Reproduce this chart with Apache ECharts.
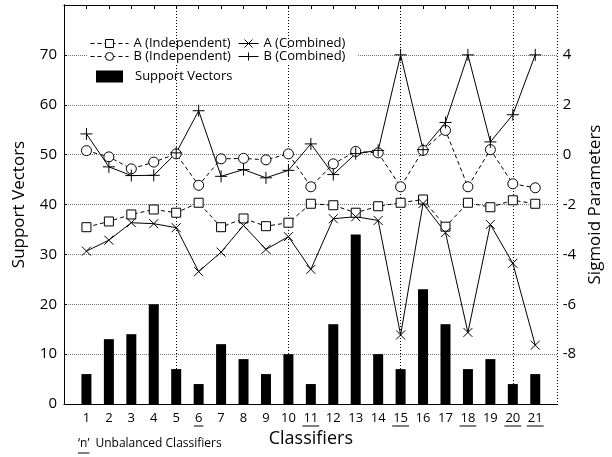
<!DOCTYPE html>
<html>
<head>
<meta charset="utf-8">
<script src="https://cdn.jsdelivr.net/npm/echarts@6/dist/echarts.min.js"></script>
<style>html,body{margin:0;padding:0;background:#fff}#c{width:612px;height:457px}</style>
</head>
<body>
<div id="c"></div>
<script>
var categories = [1,2,3,4,5,6,7,8,9,10,11,12,13,14,15,16,17,18,19,20,21];
var unbalanced = [6,11,15,18,20,21];
var supportVectors = [6,13,14,20,7,4,12,9,6,10,4,16,34,10,7,23,16,7,9,4,6];
var aIndependent = [-2.91,-2.68,-2.4,-2.2,-2.33,-1.93,-2.91,-2.56,-2.87,-2.73,-1.97,-2.03,-2.33,-2.07,-1.93,-1.8,-2.89,-1.93,-2.11,-1.83,-1.97];
var bIndependent = [0.16,-0.09,-0.57,-0.3,0.03,-1.23,-0.17,-0.15,-0.21,0.03,-1.29,-0.37,0.13,0.07,-1.29,0.17,0.97,-1.29,0.2,-1.17,-1.33];
var aCombined = [-3.87,-3.43,-2.73,-2.77,-2.93,-4.69,-3.91,-2.84,-3.8,-3.29,-4.6,-2.57,-2.49,-2.64,-7.23,-1.96,-3.13,-7.13,-2.8,-4.36,-7.64];
var bCombined = [0.83,-0.49,-0.84,-0.83,0.07,1.76,-0.87,-0.6,-0.93,-0.63,0.43,-0.8,0.04,0.17,4,0.2,1.29,4,0.51,1.6,4];
var leftTicks = [0,10,20,30,40,50,60,70];
var rightTicks = [-8,-6,-4,-2,0,2,4];

var FONT = 'Open Sans';
function pairs(vals){ return categories.map(function(c,i){ return [c, vals[i]]; }); }
var crossPath = 'path://M0,0L10,10M10,0L0,10';
var plusPath = 'path://M5,0L5,10M0,5L10,5';
var rectPath = 'path://M0,0L10,0L10,10L0,10Z';
var circlePath = 'path://M10,5A5,5 0 1 1 0,5A5,5 0 1 1 10,5Z';

var chart = echarts.init(document.getElementById('c'), null, {renderer:'canvas'});
var legendText = {fontFamily: FONT, fontSize: 13, color: '#000'};
var legendItem = {borderWidth:1};
var legendLine = {width:1};
var openStyle = {color:'#fff', borderColor:'#000', borderWidth:1};
var lineMarkStyle = {color:'#000', borderColor:'#000', borderWidth:1};
var option = {
  animation: false,
  textStyle: {fontFamily: FONT},
  grid: {left: 64, right: 44, top: 5, bottom: 53, containLabel: false},
  xAxis: [
    {type:'value', min:0, max:22, interval:1, position:'bottom',
     name:'Classifiers', nameLocation:'middle', nameGap:24,
     nameTextStyle:{fontFamily:FONT, fontSize:18, color:'#000'},
     axisLine:{show:true, onZero:false, lineStyle:{color:'#000', width:1}},
     axisTick:{show:false}, splitLine:{show:false},
     axisLabel:{show:true, margin:8, color:'#000', fontFamily:FONT, fontSize:13,
       formatter:function(v){ return categories.indexOf(v) >= 0 ? String(v) : ''; }}},
    {type:'value', min:0, max:22, interval:1, position:'top',
     axisLine:{show:true, onZero:false, lineStyle:{color:'#000', width:1}},
     axisTick:{show:true, inside:true, length:4, lineStyle:{color:'#000'}},
     axisLabel:{show:false}, splitLine:{show:false}},
    {type:'value', min:0, max:22, interval:5, position:'bottom',
     axisLine:{show:false}, axisTick:{show:false}, axisLabel:{show:false},
     splitLine:{show:true, lineStyle:{color:'#000', width:1, type:[1,2]}}}
  ],
  yAxis: [
    {type:'value', min:0, max:80, interval:10, position:'left',
     name:'Support Vectors', nameLocation:'middle', nameGap:36, nameRotate:90,
     nameTextStyle:{fontFamily:FONT, fontSize:17, color:'#000'},
     axisLine:{show:true, lineStyle:{color:'#000'}}, axisTick:{show:false},
     axisLabel:{margin:7, color:'#000', fontFamily:FONT, fontSize:15,
       formatter:function(v){ return leftTicks.indexOf(v) >= 0 ? String(v) : ''; }},
     splitLine:{show:true, lineStyle:{color:'#777', width:1, type:[1,1]}}},
    {type:'value', min:-10, max:6, interval:2, position:'right',
     name:'Sigmoid Parameters', nameLocation:'middle', nameGap:24, nameRotate:90,
     nameTextStyle:{fontFamily:FONT, fontSize:17, color:'#000'},
     axisLine:{show:true, lineStyle:{color:'#000'}},
     axisTick:{show:true, inside:false, length:3, lineStyle:{color:'#000'}},
     axisLabel:{margin:5, color:'#000', fontFamily:FONT, fontSize:15,
       formatter:function(v){ return rightTicks.indexOf(v) >= 0 ? String(v) : ''; }},
     splitLine:{show:false}}
  ],
  legend: [
    {data:['A (Independent)'], left:88, top:37, orient:'vertical', padding:[0,4,0,2],
     itemWidth:38, itemHeight:10, itemStyle:legendItem, lineStyle:legendLine, textStyle:legendText},
    {data:['B (Independent)'], left:88, top:50, orient:'vertical', padding:[0,4,0,2],
     backgroundColor:'#fff', itemWidth:38, itemHeight:10, itemStyle:legendItem, lineStyle:legendLine, textStyle:legendText},
    {data:[{name:'Support Vectors', icon:'rect'}], left:96, top:70, orient:'vertical', padding:0,
     itemWidth:27, itemHeight:12, textStyle:Object.assign({padding:[0,0,0,7]}, legendText)},
    {data:['A (Combined)'], left:236, top:37, orient:'vertical', padding:[0,12,0,2],
     itemWidth:20, itemHeight:10, itemStyle:legendItem, lineStyle:legendLine, textStyle:legendText},
    {data:['B (Combined)'], left:236, top:50, orient:'vertical', padding:[0,12,0,2],
     backgroundColor:'#fff', itemWidth:20, itemHeight:10, itemStyle:legendItem, lineStyle:legendLine, textStyle:legendText}
  ],
  series: [
    {name:'Support Vectors', type:'bar', xAxisIndex:0, yAxisIndex:0, barWidth:10,
     itemStyle:{color:'#000'}, data:pairs(supportVectors), z:1},
    {name:'A (Independent)', type:'line', xAxisIndex:0, yAxisIndex:1,
     symbol:rectPath, symbolSize:9,
     lineStyle:{color:'#000', width:1, type:[4,3]},
     itemStyle:openStyle, data:pairs(aIndependent), z:3},
    {name:'B (Independent)', type:'line', xAxisIndex:0, yAxisIndex:1,
     symbol:circlePath, symbolSize:10,
     lineStyle:{color:'#000', width:1, type:[4,3]},
     itemStyle:openStyle, data:pairs(bIndependent), z:3},
    {name:'A (Combined)', type:'line', xAxisIndex:0, yAxisIndex:1,
     symbol:crossPath, symbolSize:9,
     lineStyle:{color:'#000', width:1},
     itemStyle:lineMarkStyle, data:pairs(aCombined), z:3},
    {name:'B (Combined)', type:'line', xAxisIndex:0, yAxisIndex:1,
     symbol:plusPath, symbolSize:12,
     lineStyle:{color:'#000', width:1},
     itemStyle:lineMarkStyle, data:pairs(bCombined), z:3}
  ]
};
chart.setOption(option);

// underline unbalanced classifier labels
var ctx = document.createElement('canvas').getContext('2d');
ctx.font = '13px "' + FONT + '"';
var graphics = [];
var yBottom = chart.convertToPixel({yAxisIndex:0}, 0);
unbalanced.forEach(function(c){
  var px = chart.convertToPixel({xAxisIndex:0}, c);
  var w = ctx.measureText(String(c)).width + 2;
  graphics.push({type:'line', shape:{x1:px - w/2, y1:yBottom + 22, x2:px + w/2, y2:yBottom + 22},
    style:{stroke:'#000', lineWidth:1}});
});
ctx.font = '12px "' + FONT + '"';
var nW = ctx.measureText("\u2018n\u2019").width;
graphics.push({type:'text', left:78, top:438, style:{text:"\u2018n\u2019", font:'12px "' + FONT + '"', fill:'#000'}});
graphics.push({type:'line', shape:{x1:78, y1:453, x2:78 + nW, y2:453}, style:{stroke:'#000', lineWidth:1}});
graphics.push({type:'text', left:78 + nW + 6, top:438, style:{text:'Unbalanced Classifiers', font:'12px "' + FONT + '"', fill:'#000'}});
chart.setOption({graphic: graphics});
</script>
</body>
</html>
